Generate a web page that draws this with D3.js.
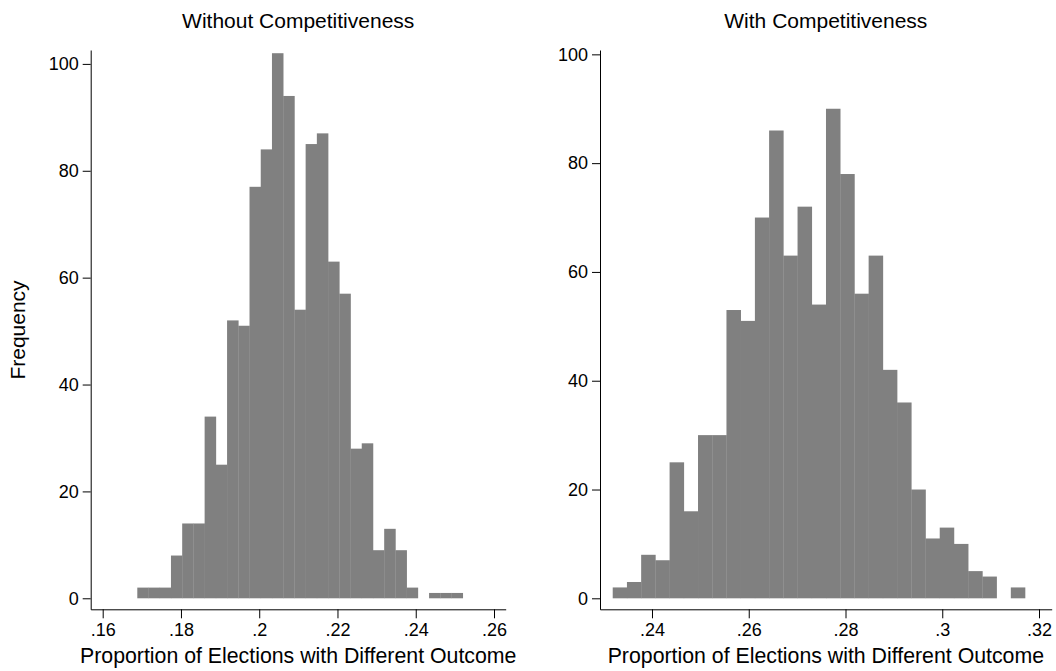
<!DOCTYPE html>
<html>
<head>
<meta charset="utf-8">
<script src="https://cdn.jsdelivr.net/npm/d3@7"></script>
<style>
  body { margin: 0; background: #fff; }
  svg { display: block; font-family: "Liberation Sans", Arial, sans-serif; }
  .axis path, .axis line { stroke: #000; stroke-width: 1; }
  .axis text { fill: #000; font-size: 18px; }
</style>
</head>
<body>
<svg id="chart" width="1056" height="671"></svg>
<script>
// Histogram counts (1000 simulations each)
const leftCounts = [2, 2, 2, 8, 14, 14, 34, 25, 52, 51, 77, 84, 102, 94, 54, 85, 87, 63, 57, 28, 29, 9, 13, 9, 2, 0, 1, 1, 1];
const leftBinStart = 0.16884;
const leftBinWidth = 0.002868;

const rightCounts = [2, 3, 8, 7, 25, 16, 30, 30, 53, 51, 70, 86, 63, 72, 54, 90, 78, 56, 63, 42, 36, 20, 11, 13, 10, 5, 4, 0, 2];
const rightBinStart = 0.23188;
const rightBinWidth = 0.002939;

// Tick values and labels
const leftXTicks = [0.16, 0.18, 0.20, 0.22, 0.24, 0.26];
const leftXLabels = [".16", ".18", ".2", ".22", ".24", ".26"];
const rightXTicks = [0.24, 0.26, 0.28, 0.30, 0.32];
const rightXLabels = [".24", ".26", ".28", ".3", ".32"];
const yTicks = [0, 20, 40, 60, 80, 100];

const titles = ["Without Competitiveness", "With Competitiveness"];
const xTitle = "Proportion of Elections with Different Outcome";
const yTitle = "Frequency";

const svg = d3.select("#chart");

const panels = [
  {
    counts: leftCounts, start: leftBinStart, width: leftBinWidth,
    xTicks: leftXTicks, xLabels: leftXLabels, title: titles[0],
    xDomain: [0.156933, 0.26299], xRange: [90.7, 505.7],
    yDomain: [-2.06, 102.6], yRange: [609.3, 50]
  },
  {
    counts: rightCounts, start: rightBinStart, width: rightBinWidth,
    xTicks: rightXTicks, xLabels: rightXLabels, title: titles[1],
    xDomain: [0.229251, 0.322625], xRange: [600, 1051.7],
    yDomain: [-2.02, 100.8], yRange: [609.3, 50]
  }
];

panels.forEach(p => {
  const x = d3.scaleLinear().domain(p.xDomain).range(p.xRange);
  const y = d3.scaleLinear().domain(p.yDomain).range(p.yRange);

  const bins = p.counts.map((c, i) => ({
    x0: p.start + i * p.width,
    x1: p.start + (i + 1) * p.width,
    count: c
  })).filter(d => d.count > 0);

  // Bars
  svg.append("g")
    .selectAll("rect")
    .data(bins)
    .enter()
    .append("rect")
    .attr("x", d => x(d.x0))
    .attr("width", d => x(d.x1) - x(d.x0) + 0.3)
    .attr("y", d => y(d.count))
    .attr("height", d => y(0) - y(d.count))
    .attr("fill", "#808080");

  // X axis
  const labelOf = d3.scaleOrdinal().domain(p.xTicks).range(p.xLabels);
  svg.append("g")
    .attr("class", "axis")
    .attr("transform", `translate(0, ${p.yRange[0]})`)
    .call(d3.axisBottom(x)
      .tickValues(p.xTicks)
      .tickFormat(d => labelOf(d))
      .tickSizeInner(9)
      .tickSizeOuter(0)
      .tickPadding(5));

  // Y axis
  svg.append("g")
    .attr("class", "axis")
    .attr("transform", `translate(${p.xRange[0]}, 0)`)
    .call(d3.axisLeft(y)
      .tickValues(yTicks)
      .tickFormat(d3.format("d"))
      .tickSizeInner(8)
      .tickSizeOuter(0)
      .tickPadding(4));

  const cx = (p.xRange[0] + p.xRange[1]) / 2;

  // Panel title
  svg.append("text")
    .attr("x", cx)
    .attr("y", 28)
    .attr("text-anchor", "middle")
    .attr("font-size", "21px")
    .attr("fill", "#000")
    .text(p.title);

  // X axis title
  svg.append("text")
    .attr("x", cx)
    .attr("y", 663)
    .attr("text-anchor", "middle")
    .attr("font-size", "21.3px")
    .attr("fill", "#000")
    .text(xTitle);
});

// Y axis title (left panel only)
svg.append("text")
  .attr("transform", "translate(25, 330) rotate(-90)")
  .attr("text-anchor", "middle")
  .attr("font-size", "21px")
  .attr("fill", "#000")
  .text(yTitle);
</script>
</body>
</html>
